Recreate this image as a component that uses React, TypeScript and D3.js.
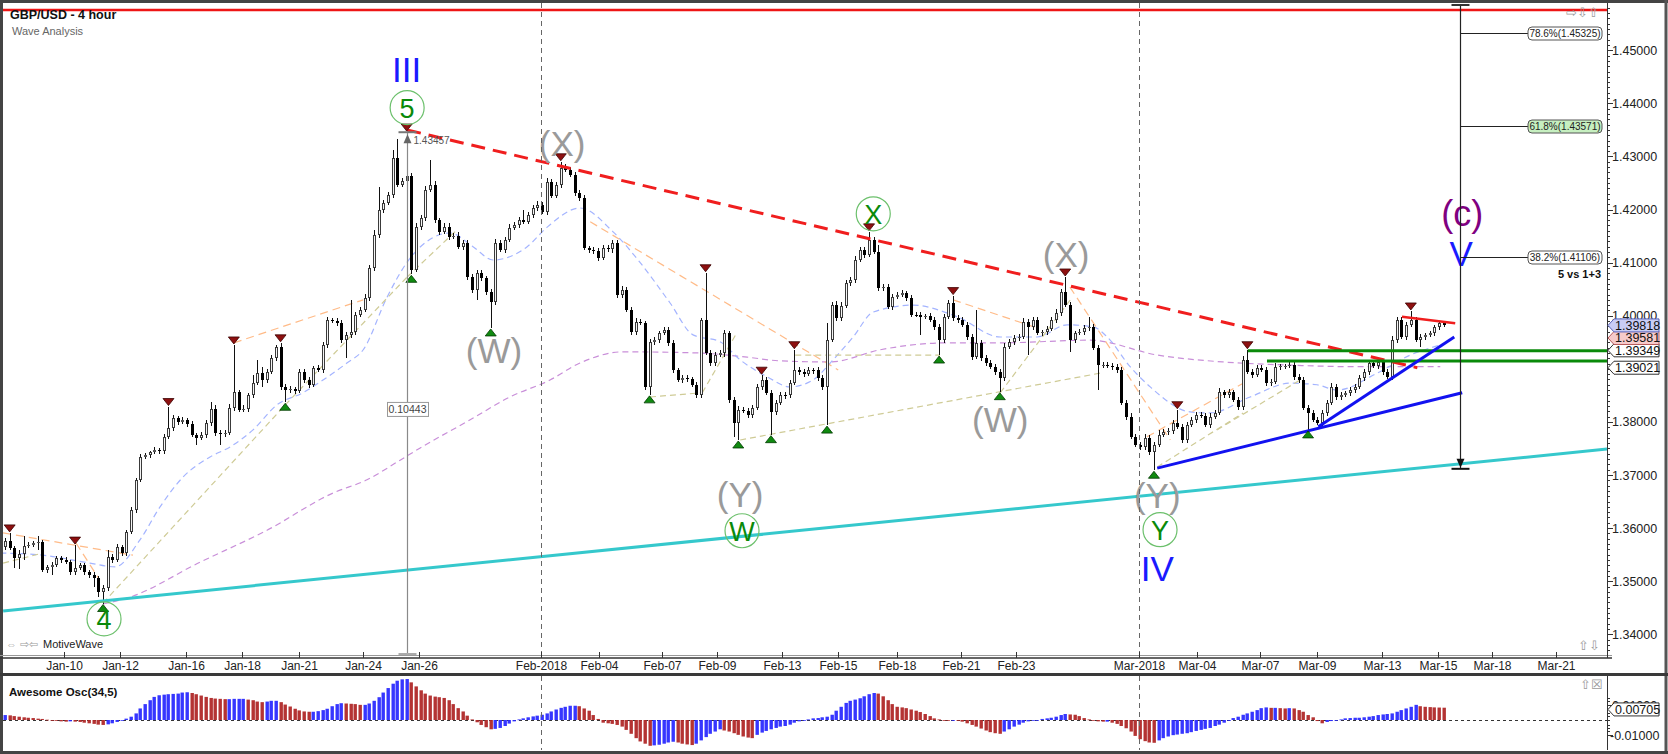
import React, { useEffect, useRef } from "react";
import * as d3 from "d3";

// ---------------- data ----------------
const firstOpen = 1.3565;
const closes = [
  1.3576,1.3563,1.3544,1.3551,1.3567,1.3569,1.3572,1.3574,1.3521,1.3527,
  1.3531,1.3544,1.3540,1.3536,1.3517,1.3525,1.3531,1.3517,1.3512,1.3506,
  1.3479,1.3487,1.3546,1.3540,1.3565,1.3553,1.3592,1.3634,1.3691,1.3734,
  1.3738,1.3743,1.3747,1.3745,1.3772,1.3789,1.3808,1.3800,1.3804,1.3796,
  1.3776,1.3770,1.3775,1.3798,1.3825,1.3779,1.3777,1.3780,1.3827,1.3856,
  1.3823,1.3825,1.3851,1.3873,1.3892,1.3879,1.3894,1.3921,1.3941,1.3866,
  1.3860,1.3862,1.3859,1.3894,1.3879,1.3870,1.3902,1.3898,1.3945,1.3992,
  1.3990,1.3986,1.3954,1.3964,1.3969,1.4002,1.4011,1.4034,1.4090,1.4153,
  1.4199,1.4212,1.4228,1.4298,1.4247,1.4254,1.4264,1.4086,1.4168,1.4184,
  1.4237,1.4247,1.4180,1.4158,1.4168,1.4149,1.4151,1.4130,1.4137,1.4073,
  1.4049,1.4081,1.4071,1.4045,1.4026,1.4137,1.4124,1.4143,1.4166,1.4171,
  1.4180,1.4177,1.4190,1.4203,1.4209,1.4195,1.4252,1.4226,1.4247,1.4279,
  1.4275,1.4265,1.4231,1.4222,1.4128,1.4124,1.4122,1.4109,1.4128,1.4125,
  1.4137,1.4039,1.4049,1.4011,1.3969,1.3988,1.3986,1.3866,1.3950,1.3954,
  1.3967,1.3973,1.3949,1.3898,1.3879,1.3883,1.3880,1.3870,1.3851,1.3992,
  1.3930,1.3911,1.3926,1.3929,1.3967,1.3841,1.3798,1.3823,1.3821,1.3813,
  1.3827,1.3866,1.3879,1.3855,1.3819,1.3836,1.3851,1.3850,1.3873,1.3898,
  1.3894,1.3890,1.3898,1.3897,1.3883,1.3866,1.3954,1.4020,1.3996,1.4019,
  1.4062,1.4067,1.4105,1.4124,1.4115,1.4143,1.4120,1.4052,1.4054,1.4017,
  1.4036,1.4039,1.4043,1.4034,1.4002,1.4001,1.3998,1.3999,1.3992,1.3979,
  1.3954,1.3998,1.4024,1.3996,1.3992,1.3983,1.3960,1.3922,1.3949,1.3921,
  1.3911,1.3904,1.3894,1.3883,1.3941,1.3950,1.3958,1.3960,1.3988,1.3979,
  1.3992,1.3967,1.3969,1.3975,1.3992,1.4005,1.4045,1.4020,1.3954,1.3967,
  1.3969,1.3977,1.3979,1.3939,1.3907,1.3908,1.3905,1.3904,1.3898,1.3836,
  1.3810,1.3772,1.3757,1.3753,1.3770,1.3743,1.3757,1.3776,1.3781,1.3783,
  1.3798,1.3791,1.3766,1.3794,1.3804,1.3813,1.3812,1.3794,1.3810,1.3817,
  1.3856,1.3851,1.3856,1.3841,1.3828,1.3917,1.3894,1.3889,1.3902,1.3898,
  1.3873,1.3875,1.3904,1.3905,1.3906,1.3907,1.3885,1.3879,1.3827,1.3817,
  1.3804,1.3798,1.3817,1.3836,1.3866,1.3847,1.3851,1.3855,1.3860,1.3866,
  1.3883,1.3894,1.3911,1.3905,1.3913,1.3894,1.3885,1.3954,1.3992,1.3960,
  1.3983,1.3992,1.3954,1.3960,1.3964,1.3967,1.3979,1.3986,1.3982
];
// wick lengths above / below the candle body, in pips
const wickUpPips = [
  5,15,4,8,19,4,3,11,3,4,5,4,3,5,4,43,4,3,4,5,
  4,6,13,5,6,4,5,6,4,5,4,3,5,4,6,40,5,4,6,4,
  5,4,6,5,13,6,5,4,6,89,5,6,4,15,25,11,5,6,4,8,
  5,6,4,5,6,5,4,6,5,6,4,5,6,5,60,6,5,7,6,8,
  43,6,5,15,34,6,82,5,6,5,7,47,6,5,7,6,5,6,5,6,
  5,6,5,4,6,7,6,5,6,5,6,19,5,6,7,6,8,6,5,11,
  6,5,6,5,6,4,5,6,5,6,5,6,7,5,6,8,6,5,7,6,
  5,6,5,6,4,5,6,5,6,4,89,6,5,6,7,5,6,7,5,6,
  5,6,9,5,6,5,6,5,6,38,5,6,5,4,6,5,32,6,8,6,
  5,6,7,6,5,15,6,13,5,6,5,6,5,4,6,5,6,5,6,5,
  6,5,5,14,5,6,5,6,62,5,6,5,6,5,7,6,5,6,7,6,
  5,6,5,6,5,7,6,28,6,5,6,5,19,6,5,4,5,6,5,6,
  5,6,5,6,7,5,6,8,5,6,5,25,6,5,6,5,6,5,6,5,
  7,5,6,5,6,8,19,5,6,5,6,5,7,5,4,5,6,5,6,5,
  6,5,6,5,7,6,5,4,5,6,5,6,5,4,5,6,5,7,6,6,
  5,17,6,5,4,5,4,5,4
];
const wickDownPips = [
  6,4,19,21,11,4,5,13,4,5,15,4,5,4,5,6,4,5,6,17,
  9,21,6,5,4,6,5,4,6,5,4,5,4,6,5,4,6,5,4,6,
  5,13,4,6,5,6,21,5,4,6,5,4,6,5,4,13,5,4,6,5,
  23,5,6,4,5,6,5,4,6,5,4,6,5,34,5,6,5,4,6,5,
  6,5,4,6,5,4,6,8,4,6,5,4,6,5,4,6,5,4,6,5,
  6,19,5,6,49,5,4,6,5,4,6,5,4,6,5,4,6,5,4,6,
  5,4,6,5,4,6,5,6,4,5,6,5,6,4,5,6,4,5,15,6,
  5,4,6,5,4,6,5,4,6,5,4,6,5,4,6,5,26,32,4,6,
  5,4,6,5,43,5,4,6,5,4,6,5,4,6,5,6,72,4,6,5,
  4,6,5,4,6,5,4,6,5,4,6,5,4,6,5,4,34,5,4,6,
  28,5,4,6,5,4,6,5,4,6,5,4,6,26,5,4,6,5,4,53,
  5,4,6,5,4,6,5,4,23,5,4,6,5,4,47,5,4,6,5,4,
  6,5,4,6,5,6,34,5,4,6,5,4,6,5,4,6,5,4,6,5,
  4,6,5,4,6,5,4,6,5,4,6,5,4,6,5,4,6,5,4,32,
  5,4,6,5,4,6,5,4,6,5,4,6,5,4,6,5,4,6,5,4,
  6,5,4,13,5,4,6,5,4
];
// Awesome Oscillator, in units of 0.0001
const aoTenThousandths = [
  33,31,26,22,18,15,13,9,7,2,0,-4,-9,-11,-9,-11,-13,-18,-22,-26,
  -31,-33,-29,-22,-13,-4,9,22,44,77,106,132,154,165,169,172,174,176,183,185,
  180,172,163,154,147,143,141,139,139,141,141,141,136,132,123,119,123,128,128,119,
  103,90,75,64,57,55,55,59,66,75,92,106,112,110,108,106,101,101,110,128,
  152,183,213,242,262,271,273,251,224,198,176,163,156,152,147,132,106,79,57,29,
  4,-15,-33,-48,-62,-59,-53,-40,-24,-9,4,11,18,24,29,35,44,57,70,81,
  88,95,95,92,77,62,33,7,-18,-22,-26,-33,-44,-66,-92,-121,-143,-158,-172,-169,
  -165,-158,-150,-145,-150,-158,-163,-167,-158,-136,-114,-92,-77,-62,-70,-77,-88,-99,-110,-117,
  -121,-99,-84,-73,-62,-53,-44,-40,-31,-18,-9,-2,4,11,13,18,22,35,62,88,
  114,128,136,145,158,172,180,176,158,132,106,88,84,79,70,62,53,40,26,11,
  4,0,-2,0,-4,-11,-22,-33,-44,-57,-70,-81,-88,-92,-77,-62,-44,-31,-18,-9,
  -4,0,7,11,15,22,33,40,37,35,26,13,4,-2,-9,-11,-11,-18,-26,-40,
  -55,-77,-106,-128,-141,-150,-152,-136,-121,-110,-101,-97,-92,-88,-81,-73,-66,-59,-53,-40,
  -31,-18,-4,13,22,35,44,55,66,79,84,81,81,79,77,79,77,66,55,33,
  18,-7,-22,-13,-7,0,4,11,13,15,15,18,22,26,33,37,40,44,55,66,
  77,88,101,92,88,86,84,83,82
];

const dateTickLabels = ["Jan-10","Jan-12","Jan-16","Jan-18","Jan-21","Jan-24","Jan-26","Feb-2018","Feb-04","Feb-07","Feb-09","Feb-13","Feb-15","Feb-18","Feb-21","Feb-23","Mar-2018","Mar-04","Mar-07","Mar-09","Mar-13","Mar-15","Mar-18","Mar-21"];
const dateTickBars = [12.6,24.6,38.8,50.7,63,76.7,88.6,114.8,127.2,140.7,152.5,166.4,178.4,191,204.7,216.5,242.8,255.2,268.7,280.9,294.8,306.8,318.3,332];
const monthStartBars = [114.8, 242.8];
const priceTickValues = [1.34,1.35,1.36,1.37,1.38,1.39,1.40,1.41,1.42,1.43,1.44,1.45];

const swingHighBars = [1,15,35,49,59,86,119,150,162,169,185,203,227,251,266,301];
const swingLowBars = [21,60,87,104,138,157,164,176,200,213,246,279];

const blueMaBars = [-1,8.1,18.2,23.6,28.9,33.2,38.1,43.9,48.2,53.1,58.2,63.8,68.1,73.2,76.7,81.8,86.1,91.6,95.3,100.2,104.5,111.8,116.1,123.1,130.2,136,142.4,147.3,153.1,157.4,163.2,168.1,173,177.3,181.6,185.9,194.4,203.9,213.1,221,227.4,233,236,240.9,245.2,253.7,258,266.6,275.2,280.9,285.2,293.8,300.9,307.3];
const blueMaPrices = [1.3553,1.3549,1.3534,1.3527,1.3578,1.3640,1.3696,1.3734,1.3753,1.3785,1.3832,1.3855,1.3879,1.3911,1.3936,1.4035,1.4101,1.4147,1.4156,1.4130,1.4105,1.4130,1.4167,1.4203,1.4158,1.4100,1.4024,1.3964,1.3951,1.3917,1.3885,1.3866,1.3879,1.3917,1.3960,1.4007,1.4020,1.3998,1.3960,1.3960,1.3983,1.3979,1.3960,1.3904,1.3866,1.3819,1.3817,1.3847,1.3873,1.3870,1.3860,1.3892,1.3926,1.3945];
const purpleMaBars = [21,26.1,41.8,56.1,70.2,77.5,84.6,88.9,99.6,108.1,116.7,123.1,132.3,148.2,158.9,166,176.7,187.4,201.7,213.1,232.3,246.7,260.8,275.2,289.5,307.3];
const purpleMaPrices = [1.3457,1.3468,1.3536,1.3596,1.3666,1.3691,1.3728,1.3751,1.3804,1.3847,1.3879,1.3911,1.3932,1.3930,1.3922,1.3915,1.3913,1.3936,1.3949,1.3949,1.3954,1.3926,1.3913,1.3907,1.3904,1.3904];

// [bar1, price1, bar2, price2]
const orangeSegments = [
  [-0.4,1.3591,27.4,1.3549],[15.2,1.3572,20.3,1.3502],[49,1.3949,76.7,1.4030],
  [125.3,1.4177,178.4,1.3898],[203,1.4030,221,1.3977],[228,1.4054,249.5,1.3766],[244.5,1.3772,265.1,1.3873]
];
const khakiSegments = [
  [-0.4,1.3534,8.1,1.3553],[21,1.3459,60,1.3832],[60,1.3832,86.1,1.4073],[86.1,1.4073,96.8,1.4162],
  [138.1,1.3847,149.3,1.3855],[149.3,1.3855,156.7,1.3968],[157.4,1.3766,234.5,1.3892],[169.2,1.3926,200.2,1.3926],
  [213.1,1.3855,228.1,1.4030],[246.7,1.3715,265.1,1.3817],[259.5,1.3785,277.3,1.3879]
];
const cyanTrend = [[-0.4,1.3444],[343,1.3749]];
const redDashedTrend = [[86.1,1.4350],[302.4,1.3902]];
const redShortTrend = [[299.1,1.3998],[310.5,1.3986]];
const blueTrendA = [[246.7,1.3713],[312,1.3855]];
const blueTrendB = [[281.2,1.3791],[310.3,1.3960]];
const greenLevels = [[266.1,1.3934],[270.2,1.3915]];
const topRedLevel = 1.4576;

const wave3Top = 1.43457;
const wave3Length = 0.10443;
const wave3Bar = 86.1;
const projectionBar = 311.6;
const projectionBase = 1.37117;
const fibRatios = [0.786, 0.618, 0.382];

const priceFlags = [
  { v: 1.39818, fill: "#c9cdf5", stroke: "#5560b8" },
  { v: 1.39581, fill: "#f6caca", stroke: "#b85a5a" },
  { v: 1.39349, fill: "#ffffff", stroke: "#333333" },
  { v: 1.39021, fill: "#ffffff", stroke: "#333333" }
];
const aoLast = 0.00705;

// wave labels [text, bar, price, colour, size]
const waveTexts = [
  ["III", 86, 1.4463, "#1a1aff", 35],
  ["(X)", 119.3, 1.4324, "#9a9a9a", 35],
  ["(W)", 104.7, 1.3934, "#9a9a9a", 35],
  ["(Y)", 157.4, 1.3663, "#9a9a9a", 35],
  ["(W)", 213.1, 1.3804, "#9a9a9a", 35],
  ["(X)", 227.2, 1.4115, "#9a9a9a", 35],
  ["(Y)", 246.7, 1.3661, "#9a9a9a", 35],
  ["IV", 246.7, 1.3523, "#1a1aff", 35],
  ["(c)", 312, 1.4192, "#800080", 36],
  ["V", 311.8, 1.4118, "#1a1aff", 35]
];
const circleLabels = [
  ["5", 86.1, 1.4392],
  ["4", 21.2, 1.3429],
  ["X", 185.9, 1.4192],
  ["W", 157.8, 1.3595],
  ["Y", 247.3, 1.3597]
];

const FONT = "'Liberation Sans', Arial, Helvetica, sans-serif";

export default function App() {
  const ref = useRef<SVGSVGElement | null>(null);

  useEffect(() => {
    const svg = d3.select(ref.current as SVGSVGElement);
    svg.selectAll("*").remove();

    const x = d3.scaleLinear().domain([0, 343]).range([5, 1607]);
    const y = d3.scaleLinear().domain([1.34, 1.45]).range([634.3, 50.3]);
    const yo = d3.scaleLinear().domain([-0.01, 0.01]).range([735, 705]);
    const cx = (b: number) => Math.round(x(b));

    const PANE_TOP = 3, PANE_BOT = 655, AXIS_X = 1607;
    const OSC_TOP = 676, OSC_BOT = 750;

    svg.append("rect").attr("width", 1668).attr("height", 754).attr("fill", "#ffffff");
    const defs = svg.append("defs");
    defs.append("clipPath").attr("id", "pc").append("rect")
      .attr("x", 3).attr("y", PANE_TOP).attr("width", AXIS_X - 3).attr("height", PANE_BOT - PANE_TOP);
    defs.append("clipPath").attr("id", "oc").append("rect")
      .attr("x", 3).attr("y", OSC_TOP).attr("width", AXIS_X - 3).attr("height", OSC_BOT - OSC_TOP);

    const pg = svg.append("g").attr("clip-path", "url(#pc)");
    const og = svg.append("g").attr("clip-path", "url(#oc)");

    const seg = (g: any, b1: number, p1: number, b2: number, p2: number, stroke: string, w: number, dash?: string) => {
      const l = g.append("line").attr("x1", x(b1)).attr("y1", y(p1)).attr("x2", x(b2)).attr("y2", y(p2))
        .attr("stroke", stroke).attr("stroke-width", w);
      if (dash) l.attr("stroke-dasharray", dash);
      return l;
    };
    const text = (g: any, tx: number, ty: number, s: string, size: number, fill: string, anchor = "start", weight = "normal") =>
      g.append("text").attr("x", tx).attr("y", ty).text(s).attr("font-family", FONT).attr("font-size", size)
        .attr("fill", fill).attr("text-anchor", anchor).attr("font-weight", weight);

    // month separators
    monthStartBars.forEach((b) => {
      [[PANE_TOP, PANE_BOT], [OSC_TOP, OSC_BOT]].forEach(([a, z]) => {
        svg.append("line").attr("x1", cx(b) + 0.5).attr("x2", cx(b) + 0.5).attr("y1", a).attr("y2", z)
          .attr("stroke", "#666").attr("stroke-width", 1).attr("stroke-dasharray", "5,4");
      });
    });

    // moving averages
    const maPath = (bars: number[], prices: number[]) =>
      d3.line<number>().x((d, i) => x(bars[i])).y((d) => y(d)).curve(d3.curveMonotoneX)(prices);
    pg.append("path").attr("d", maPath(purpleMaBars, purpleMaPrices)).attr("fill", "none")
      .attr("stroke", "#c98fd9").attr("stroke-width", 1.2).attr("stroke-dasharray", "6,4");
    pg.append("path").attr("d", maPath(blueMaBars, blueMaPrices)).attr("fill", "none")
      .attr("stroke", "#a4b4ff").attr("stroke-width", 1.2).attr("stroke-dasharray", "6,4");

    orangeSegments.forEach((s) => seg(pg, s[0], s[1], s[2], s[3], "#ffbb88", 1.2, "8,5"));
    khakiSegments.forEach((s) => seg(pg, s[0], s[1], s[2], s[3], "#cfcb96", 1.2, "6,4"));

    // candles
    closes.forEach((c, i) => {
      const o = i === 0 ? firstOpen : closes[i - 1];
      const hi = Math.max(o, c) + wickUpPips[i] / 10000;
      const lo = Math.min(o, c) - wickDownPips[i] / 10000;
      const xc = cx(i);
      pg.append("line").attr("x1", xc + 0.5).attr("x2", xc + 0.5).attr("y1", Math.round(y(hi)))
        .attr("y2", Math.round(y(lo))).attr("stroke", "#111").attr("stroke-width", 1);
      const top = Math.round(y(Math.max(o, c)));
      const bot = Math.round(y(Math.min(o, c)));
      const h = Math.max(1, bot - top);
      if (c >= o && h > 2) {
        pg.append("rect").attr("x", xc - 0.5).attr("y", top + 0.5).attr("width", 2).attr("height", h - 1)
          .attr("fill", "#f4f4f4").attr("stroke", "#3a3a3a").attr("stroke-width", 1);
      } else {
        pg.append("rect").attr("x", xc - 1).attr("y", top).attr("width", 3).attr("height", h)
          .attr("fill", c >= o ? "#555" : "#000");
      }
    });

    // trend lines
    seg(pg, cyanTrend[0][0], cyanTrend[0][1], cyanTrend[1][0], cyanTrend[1][1], "#35c8cc", 3);
    seg(pg, redDashedTrend[0][0], redDashedTrend[0][1], redDashedTrend[1][0], redDashedTrend[1][1], "#f01e1e", 3, "14,8");
    seg(pg, redShortTrend[0][0], redShortTrend[0][1], redShortTrend[1][0], redShortTrend[1][1], "#f01e1e", 2.5);
    greenLevels.forEach(([b, p]) => seg(pg, b, p, 343, p, "#0a8a0a", 3));
    seg(pg, blueTrendA[0][0], blueTrendA[0][1], blueTrendA[1][0], blueTrendA[1][1], "#1212f0", 3);
    seg(pg, blueTrendB[0][0], blueTrendB[0][1], blueTrendB[1][0], blueTrendB[1][1], "#1212f0", 3);
    pg.append("line").attr("x1", 3).attr("x2", AXIS_X).attr("y1", y(topRedLevel)).attr("y2", y(topRedLevel))
      .attr("stroke", "#ee1515").attr("stroke-width", 2.5);

    // swing markers
    const hiOf = (i: number) => Math.max(i === 0 ? firstOpen : closes[i - 1], closes[i]) + wickUpPips[i] / 10000;
    const loOf = (i: number) => Math.min(i === 0 ? firstOpen : closes[i - 1], closes[i]) - wickDownPips[i] / 10000;
    swingHighBars.forEach((i) => {
      const xc = x(i), yt = y(hiOf(i)) - 1;
      pg.append("path").attr("d", `M${xc - 5.5},${yt - 7} L${xc + 5.5},${yt - 7} L${xc},${yt} Z`)
        .attr("fill", "#8e1010").attr("stroke", "#3a0000").attr("stroke-width", 0.8);
    });
    swingLowBars.forEach((i) => {
      const xc = x(i), yb = y(loOf(i)) + 1;
      pg.append("path").attr("d", `M${xc - 5.5},${yb + 7} L${xc + 5.5},${yb + 7} L${xc},${yb} Z`)
        .attr("fill", "#108a10").attr("stroke", "#003a00").attr("stroke-width", 0.8);
    });

    // wave 3 measurement
    const mx = cx(wave3Bar) + 0.5;
    const mTop = y(wave3Top);
    const mBot = Math.min(y(wave3Top - wave3Length), PANE_BOT - 1);
    pg.append("line").attr("x1", mx).attr("x2", mx).attr("y1", mTop).attr("y2", mBot).attr("stroke", "#8a8a8a").attr("stroke-width", 1.2);
    pg.append("line").attr("x1", mx - 9).attr("x2", mx + 9).attr("y1", mTop).attr("y2", mTop).attr("stroke", "#777").attr("stroke-width", 2);
    pg.append("line").attr("x1", mx - 9).attr("x2", mx + 9).attr("y1", mBot).attr("y2", mBot).attr("stroke", "#aaa").attr("stroke-width", 2);
    pg.append("path").attr("d", `M${mx},${mTop + 2} L${mx - 4},${mTop + 11} L${mx + 4},${mTop + 11} Z`).attr("fill", "#666");
    text(pg, mx + 6, mTop + 12, wave3Top.toFixed(5), 10, "#555");
    const midY = y(wave3Top - wave3Length / 2);
    pg.append("rect").attr("x", mx - 20).attr("y", midY - 7).attr("width", 41).attr("height", 14)
      .attr("fill", "#fff").attr("stroke", "#999").attr("stroke-width", 1);
    text(pg, mx, midY + 4, wave3Length.toFixed(5), 10.5, "#444", "middle");

    // projection (right)
    const px = cx(projectionBar) + 0.5;
    const pTop = Math.max(y(projectionBase + wave3Length), PANE_TOP + 1);
    const pBot = y(projectionBase);
    svg.append("line").attr("x1", px).attr("x2", px).attr("y1", pTop).attr("y2", pBot).attr("stroke", "#222").attr("stroke-width", 1.2);
    svg.append("line").attr("x1", px - 9).attr("x2", px + 9).attr("y1", pTop + 1).attr("y2", pTop + 1).attr("stroke", "#333").attr("stroke-width", 2);
    svg.append("line").attr("x1", px - 9).attr("x2", px + 9).attr("y1", pBot).attr("y2", pBot).attr("stroke", "#111").attr("stroke-width", 2);
    svg.append("path").attr("d", `M${px},${pBot - 1} L${px - 4},${pBot - 10} L${px + 4},${pBot - 10} Z`).attr("fill", "#111");
    fibRatios.forEach((r) => {
      const lv = projectionBase + r * wave3Length;
      const ly = Math.round(y(lv)) + 0.5;
      svg.append("line").attr("x1", px).attr("x2", 1528).attr("y1", ly).attr("y2", ly).attr("stroke", "#222").attr("stroke-width", 1);
      svg.append("rect").attr("x", 1528).attr("y", ly - 6.5).attr("width", 74).attr("height", 13).attr("rx", 4)
        .attr("fill", r === 0.618 ? "#c6efc0" : "#ffffff").attr("stroke", "#555").attr("stroke-width", 1);
      text(svg, 1565, ly + 3.8, `${(r * 100).toFixed(1)}%(${lv.toFixed(5)})`, 10, "#222", "middle");
    });
    text(svg, 1601, y(projectionBase + fibRatios[2] * wave3Length) + 21, "5 vs 1+3", 11, "#111", "end", "bold");

    // wave labels
    waveTexts.forEach(([t, b, p, col, s]) => {
      pg.append("text").attr("x", x(b as number)).attr("y", y(p as number)).text(t as string)
        .attr("font-family", FONT).attr("font-size", s as number).attr("fill", col as string)
        .attr("text-anchor", "middle").attr("dominant-baseline", "central");
    });
    circleLabels.forEach(([t, b, p]) => {
      const xc = x(b as number), yc = y(p as number);
      pg.append("circle").attr("cx", xc).attr("cy", yc).attr("r", 17).attr("fill", "none")
        .attr("stroke", "#6cc06c").attr("stroke-width", 1.2);
      pg.append("text").attr("x", xc).attr("y", yc + 1).text(t as string).attr("font-family", FONT)
        .attr("font-size", 27).attr("fill", "#0a8a0a").attr("text-anchor", "middle").attr("dominant-baseline", "central");
    });

    // ---------- oscillator ----------
    og.append("line").attr("x1", 3).attr("x2", AXIS_X).attr("y1", Math.round(yo(0)) + 0.5).attr("y2", Math.round(yo(0)) + 0.5)
      .attr("stroke", "#333").attr("stroke-width", 1).attr("stroke-dasharray", "3,3");
    aoTenThousandths.forEach((v, i) => {
      const val = v / 10000;
      const prev = i > 0 ? aoTenThousandths[i - 1] : v - 1;
      const col = v >= prev ? "#2b2bff" : "#b02828";
      const y0 = Math.round(yo(0)), y1 = yo(val);
      og.append("rect").attr("x", cx(i) - 1.5).attr("width", 3.4)
        .attr("y", Math.min(y0, y1)).attr("height", Math.max(0.8, Math.abs(y1 - y0)))
        .attr("fill", col).attr("opacity", 0.95);
    });
    text(svg, 9, 696, "Awesome Osc(34,5)", 11.5, "#111", "start", "bold");

    // ---------- frames & axes ----------
    svg.append("line").attr("x1", 0).attr("x2", 1668).attr("y1", 1.5).attr("y2", 1.5).attr("stroke", "#444").attr("stroke-width", 3);
    svg.append("line").attr("x1", 1.5).attr("x2", 1.5).attr("y1", 0).attr("y2", 754).attr("stroke", "#444").attr("stroke-width", 3);
    svg.append("line").attr("x1", 1666).attr("x2", 1666).attr("y1", 0).attr("y2", 754).attr("stroke", "#555").attr("stroke-width", 3);
    svg.append("line").attr("x1", 0).attr("x2", 1668).attr("y1", 752.5).attr("y2", 752.5).attr("stroke", "#444").attr("stroke-width", 3);
    svg.append("line").attr("x1", 0).attr("x2", AXIS_X + 5).attr("y1", 655.5).attr("y2", 655.5).attr("stroke", "#999").attr("stroke-width", 1);
    svg.append("line").attr("x1", 0).attr("x2", AXIS_X + 5).attr("y1", 658).attr("y2", 658).attr("stroke", "#333").attr("stroke-width", 1.5);
    svg.append("line").attr("x1", 0).attr("x2", 1668).attr("y1", 674.5).attr("y2", 674.5).attr("stroke", "#3a3a3a").attr("stroke-width", 3);
    svg.append("line").attr("x1", AXIS_X + 0.5).attr("x2", AXIS_X + 0.5).attr("y1", PANE_TOP).attr("y2", 658).attr("stroke", "#333");
    svg.append("line").attr("x1", AXIS_X + 0.5).attr("x2", AXIS_X + 0.5).attr("y1", OSC_TOP).attr("y2", OSC_BOT).attr("stroke", "#333");

    // price axis ticks
    d3.range(1336, 1460).forEach((k) => {
      const v = k / 1000;
      const yy = Math.round(y(v)) + 0.5;
      if (yy < PANE_TOP + 2 || yy > PANE_BOT - 1) return;
      const major = k % 10 === 0;
      svg.append("line").attr("x1", AXIS_X).attr("x2", AXIS_X + (major ? 6 : 3)).attr("y1", yy).attr("y2", yy).attr("stroke", "#333");
    });
    priceTickValues.forEach((v) => {
      text(svg, AXIS_X + 5, y(v) + 4.5, v.toFixed(5), 12.5, "#222");
    });
    // price flags
    const flag = (yc: number, s: string, fill: string, stroke: string) => {
      svg.append("path").attr("d", `M${AXIS_X + 1},${yc} L${AXIS_X + 7},${yc - 6.5} L1659,${yc - 6.5} L1659,${yc + 6.5} L${AXIS_X + 7},${yc + 6.5} Z`)
        .attr("fill", fill).attr("stroke", stroke).attr("stroke-width", 1);
      text(svg, AXIS_X + 8, yc + 4.5, s, 12.5, "#111");
    };
    [...priceFlags].reverse().forEach((f) => flag(y(f.v), f.v.toFixed(5), f.fill, f.stroke));

    // date axis
    dateTickBars.forEach((b, i) => {
      const xx = cx(b) + 0.5;
      svg.append("line").attr("x1", xx).attr("x2", xx).attr("y1", 652).attr("y2", 658).attr("stroke", "#333");
      text(svg, xx, 669.5, dateTickLabels[i], 12, "#222", "middle");
    });

    // osc axis
    [-0.01, -0.005, 0, 0.005, 0.01, 0.015].forEach((v) => {
      const yy = Math.round(yo(v)) + 0.5;
      if (yy < OSC_TOP + 2 || yy > OSC_BOT - 2) return;
      svg.append("line").attr("x1", AXIS_X).attr("x2", AXIS_X + (Math.abs(v) === 0.01 ? 6 : 3)).attr("y1", yy).attr("y2", yy).attr("stroke", "#333");
    });
    [-0.003, -0.0075, 0.0125, 0.0025].forEach((v) => {
      const yy = Math.round(yo(v)) + 0.5;
      svg.append("line").attr("x1", AXIS_X).attr("x2", AXIS_X + 3).attr("y1", yy).attr("y2", yy).attr("stroke", "#333");
    });
    text(svg, AXIS_X + 5, yo(0.01) + 4.5, "0.01000", 12.5, "#222");
    text(svg, AXIS_X + 3, yo(-0.01) + 4.5, "-0.01000", 12.5, "#222");
    flag(yo(aoLast), aoLast.toFixed(5), "#ffffff", "#333");

    // titles & icons
    text(svg, 10, 19, "GBP/USD - 4 hour", 12.5, "#111", "start", "bold");
    text(svg, 12, 35, "Wave Analysis", 11, "#666");
    text(svg, 1566, 17, "\u21E8\u21E9\u21E7", 13, "#9a9a9a");
    text(svg, 1578, 650, "\u21E7\u21E9", 13, "#9a9a9a");
    text(svg, 1580, 689, "\u21E7\u2612", 13, "#9a9a9a");
    text(svg, 6, 648, "\u21D4 \u21E8\u21E6", 11, "#999");
    text(svg, 43, 648, "MotiveWave", 11, "#222");
  }, []);

  return (
    <svg ref={ref} width={1668} height={754}
      style={{ position: "absolute", left: 0, top: 0, display: "block", background: "#fff" }} />
  );
}
